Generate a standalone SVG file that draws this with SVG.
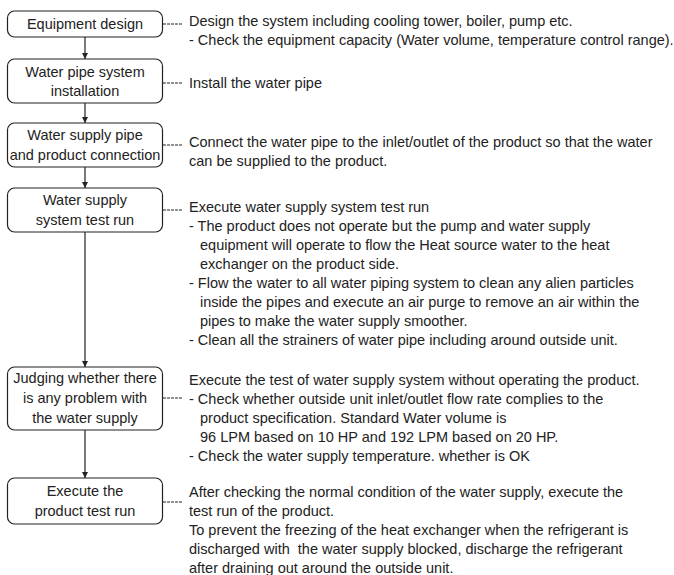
<svg xmlns="http://www.w3.org/2000/svg" width="674" height="575" viewBox="0 0 674 575">
<style>
.box{fill:#fff;stroke:#222;stroke-width:1.2}
.bt{font-family:"Liberation Sans",Arial,sans-serif;font-size:14.5px;fill:#222;text-anchor:middle}
.t{font-family:"Liberation Sans",Arial,sans-serif;font-size:14.5px;fill:#222;white-space:pre}
.ar{stroke:#222;stroke-width:1.2;fill:none}
.dash{stroke:#222;stroke-width:1;stroke-dasharray:3 1;fill:none}
</style>
<defs>
<marker id="ah" viewBox="0 0 10 10" refX="10" refY="5" markerWidth="6" markerHeight="7" markerUnits="userSpaceOnUse" orient="auto">
<path d="M0,0 L10,5 L0,10 z" fill="#222"/>
</marker>
</defs>
<rect width="674" height="575" fill="#fff"/>
<g id="connectors">
<line class="ar" x1="85" y1="37" x2="85" y2="59" marker-end="url(#ah)"/>
<line class="ar" x1="85" y1="103" x2="85" y2="123" marker-end="url(#ah)"/>
<line class="ar" x1="85" y1="167" x2="85" y2="188" marker-end="url(#ah)"/>
<line class="ar" x1="85" y1="232" x2="85" y2="367" marker-end="url(#ah)"/>
<line class="ar" x1="85" y1="430" x2="85" y2="478" marker-end="url(#ah)"/>
<line class="dash" x1="163" y1="24" x2="182" y2="24"/>
<line class="dash" x1="163" y1="83" x2="182" y2="83"/>
<line class="dash" x1="163" y1="145" x2="182" y2="145"/>
<line class="dash" x1="163" y1="210" x2="182" y2="210"/>
<line class="dash" x1="163" y1="398" x2="182" y2="398"/>
<line class="dash" x1="163" y1="502" x2="182" y2="502"/>
</g>
<g id="n1">
<rect class="box" x="7.5" y="11" width="155" height="26" rx="7"/>
<text class="bt" x="85" y="29">Equipment design</text>
<text class="t" x="189" y="26">Design the system including cooling tower, boiler, pump etc.</text>
<text class="t" x="189" y="45">- Check the equipment capacity (Water volume, temperature control range).</text>
</g>
<g id="n2">
<rect class="box" x="7.5" y="59" width="155" height="44" rx="7"/>
<text class="bt" x="85" y="77">Water pipe system</text>
<text class="bt" x="85" y="96">installation</text>
<text class="t" x="189" y="88">Install the water pipe</text>
</g>
<g id="n3">
<rect class="box" x="7.5" y="123" width="155" height="44" rx="7"/>
<text class="bt" x="85" y="140">Water supply pipe</text>
<text class="bt" x="85" y="160">and product connection</text>
<text class="t" x="189" y="147">Connect the water pipe to the inlet/outlet of the product so that the water</text>
<text class="t" x="189" y="166">can be supplied to the product.</text>
</g>
<g id="n4">
<rect class="box" x="7.5" y="188" width="155" height="44" rx="7"/>
<text class="bt" x="85" y="205">Water supply</text>
<text class="bt" x="85" y="225">system test run</text>
<text class="t" x="189" y="212">Execute water supply system test run</text>
<text class="t" x="189" y="231">- The product does not operate but the pump and water supply</text>
<text class="t" x="200" y="250">equipment will operate to flow the Heat source water to the heat</text>
<text class="t" x="200" y="269">exchanger on the product side.</text>
<text class="t" x="189" y="288">- Flow the water to all water piping system to clean any alien particles</text>
<text class="t" x="200" y="307">inside the pipes and execute an air purge to remove an air within the</text>
<text class="t" x="200" y="326">pipes to make the water supply smoother.</text>
<text class="t" x="189" y="345">- Clean all the strainers of water pipe including around outside unit.</text>
</g>
<g id="n5">
<rect class="box" x="7.5" y="367" width="155" height="63" rx="7"/>
<text class="bt" x="85" y="383">Judging whether there</text>
<text class="bt" x="85" y="403">is any problem with</text>
<text class="bt" x="85" y="423">the water supply</text>
<text class="t" x="189" y="385">Execute the test of water supply system without operating the product.</text>
<text class="t" x="189" y="404">- Check whether outside unit inlet/outlet flow rate complies to the</text>
<text class="t" x="200" y="423">product specification. Standard Water volume is</text>
<text class="t" x="200" y="442">96 LPM based on 10 HP and 192 LPM based on 20 HP.</text>
<text class="t" x="189" y="461">- Check the water supply temperature. whether is OK</text>
</g>
<g id="n6">
<rect class="box" x="7.5" y="478" width="155" height="46" rx="7"/>
<text class="bt" x="85" y="496">Execute the</text>
<text class="bt" x="85" y="516">product test run</text>
<text class="t" x="189" y="497">After checking the normal condition of the water supply, execute the</text>
<text class="t" x="189" y="516">test run of the product.</text>
<text class="t" x="189" y="535">To prevent the freezing of the heat exchanger when the refrigerant is</text>
<text class="t" x="189" y="554">discharged with  the water supply blocked, discharge the refrigerant</text>
<text class="t" x="189" y="573">after draining out around the outside unit.</text>
</g>
</svg>
